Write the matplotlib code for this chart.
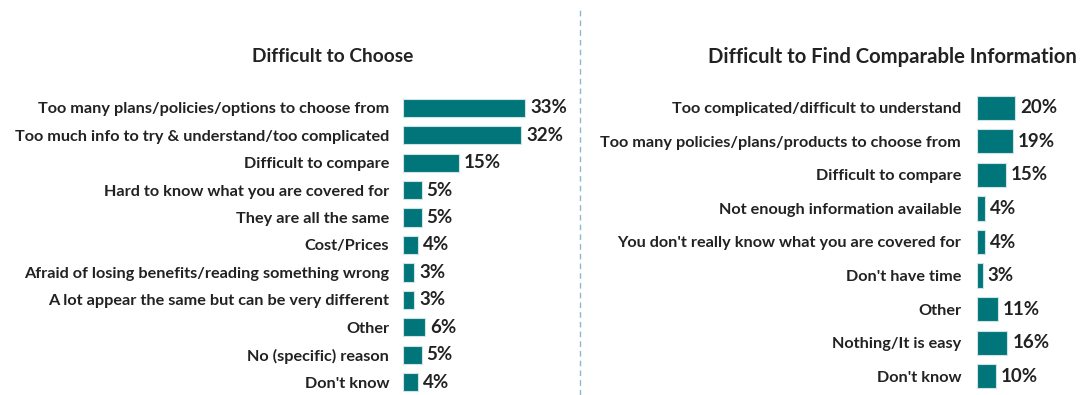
import matplotlib.pyplot as plt
from matplotlib.lines import Line2D

choose_labels = [
    "Too many plans/policies/options to choose from",
    "Too much info to try & understand/too complicated",
    "Difficult to compare",
    "Hard to know what you are covered for",
    "They are all the same",
    "Cost/Prices",
    "Afraid of losing benefits/reading something wrong",
    "A lot appear the same but can be very different",
    "Other",
    "No (specific) reason",
    "Don't know",
]
choose_values = [33, 32, 15, 5, 5, 4, 3, 3, 6, 5, 4]

info_labels = [
    "Too complicated/difficult to understand",
    "Too many policies/plans/products to choose from",
    "Difficult to compare",
    "Not enough information available",
    "You don't really know what you are covered for",
    "Don't have time",
    "Other",
    "Nothing/It is easy",
    "Don't know",
]
info_values = [20, 19, 15, 4, 4, 3, 11, 16, 10]

plt.rcParams['font.family'] = ['Lato', 'DejaVu Sans']
teal = "#00767B"
text_col = "#222222"

W, H = 1083, 395
fig = plt.figure(figsize=(W / 100, H / 100), dpi=100)


def panel(left_px, top_px, bottom_px, xmax, px_per_unit, labels, values, bar_h, pad):
    width_px = xmax * px_per_unit
    ax = fig.add_axes([left_px / W, 1 - bottom_px / H, width_px / W, (bottom_px - top_px) / H])
    y = list(range(len(labels)))
    ax.barh(y, values, height=bar_h, color=teal, edgecolor="#cfe3e4", linewidth=0.8)
    ax.set_xlim(0, xmax)
    ax.set_ylim(len(labels) - 0.5, -0.5)
    ax.set_yticks(y)
    ax.set_yticklabels(labels, fontsize=11.7, fontweight="bold", color=text_col)
    ax.tick_params(axis="y", length=0, pad=pad)
    ax.set_xticks([])
    for s in ax.spines.values():
        s.set_visible(False)
    for yi, v in zip(y, values):
        ax.text(v + 5 / px_per_unit, yi, f"{v}%", va="center", ha="left",
                fontsize=13.5, fontweight="bold", color=text_col)
    return ax


panel(403, 94, 396, 45, 3.7, choose_labels, choose_values, 0.66, 10)
panel(977, 91, 393, 52, 1.9, info_labels, info_values, 0.72, 11.5)

fig.text(333 / W, 1 - 57 / H, "Difficult to Choose", ha="center", va="center",
         fontsize=13.8, fontweight="bold", color=text_col)
fig.text(892 / W, 1 - 57 / H, "Difficult to Find Comparable Information", ha="center",
         va="center", fontsize=14.6, fontweight="bold", color=text_col)

fig.add_artist(Line2D([580 / W, 580 / W], [0, 1 - 10 / H], transform=fig.transFigure,
                      color="#8db8cc", linewidth=1, linestyle=(0, (4, 3))))

fig.savefig("out.png", dpi=100)
